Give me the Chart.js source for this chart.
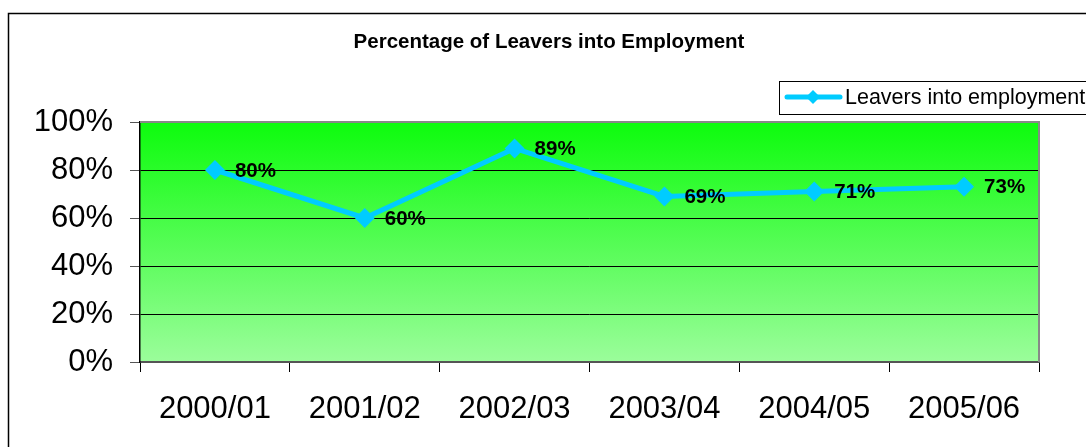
<!DOCTYPE html>
<html>
<head>
<meta charset="UTF-8">
<title>Percentage of Leavers into Employment</title>
<script src="https://cdn.jsdelivr.net/npm/chart.js@4"></script>
<style>
  body { margin: 0; background: #fff; }
  #wrap { width: 1086px; height: 447px; }
</style>
</head>
<body>
<div id="wrap"><canvas id="myChart" width="1086" height="447"></canvas></div>
<script>
// data
const years = ['2000/01', '2001/02', '2002/03', '2003/04', '2004/05', '2005/06'];
const leaversPct = [80, 60, 89, 69, 71, 73];
const pctTicks = [0, 20, 40, 60, 80, 100];
const seriesName = 'Leavers into employment';
const chartTitle = 'Percentage of Leavers into Employment';

const FONT = 'Arial, "Liberation Sans", sans-serif';
const LINE_COLOR = '#00ccff';

// frame, title, gradient plot area
const backdrop = {
    id: 'backdrop',
    beforeDraw(chart) {
        const ctx = chart.ctx;
        const a = chart.chartArea;
        ctx.save();
        ctx.strokeStyle = '#000';
        ctx.lineWidth = 1.5;
        ctx.strokeRect(8.5, 13.5, 1200, 600);

        ctx.fillStyle = '#000';
        ctx.font = 'bold 20.5px ' + FONT;
        ctx.textAlign = 'center';
        ctx.textBaseline = 'middle';
        ctx.fillText(chartTitle, 549, 42);

        const g = ctx.createLinearGradient(0, a.top, 0, a.bottom);
        g.addColorStop(0, '#0dfc0d');
        g.addColorStop(1, '#9bfd9b');
        ctx.fillStyle = g;
        ctx.fillRect(a.left, a.top, a.right - a.left, a.bottom - a.top);
        ctx.restore();
    },
    afterDraw(chart) {
        const ctx = chart.ctx;
        const a = chart.chartArea;
        ctx.save();
        ctx.strokeStyle = '#888';
        ctx.lineWidth = 2;
        ctx.beginPath();
        ctx.moveTo(a.left, a.top);
        ctx.lineTo(a.right, a.top);
        ctx.lineTo(a.right, a.bottom);
        ctx.stroke();

        // legend box
        ctx.strokeStyle = '#000';
        ctx.lineWidth = 1;
        ctx.fillStyle = '#fff';
        ctx.fillRect(779.5, 81.5, 400, 33);
        ctx.strokeRect(779.5, 81.5, 400, 33);
        ctx.strokeStyle = LINE_COLOR;
        ctx.lineWidth = 5;
        ctx.lineCap = 'round';
        ctx.beginPath();
        ctx.moveTo(787, 97);
        ctx.lineTo(840, 97);
        ctx.stroke();
        ctx.fillStyle = LINE_COLOR;
        ctx.beginPath();
        ctx.moveTo(813, 90); ctx.lineTo(820, 97); ctx.lineTo(813, 104); ctx.lineTo(806, 97);
        ctx.closePath();
        ctx.fill();
        ctx.fillStyle = '#000';
        ctx.font = '21.5px ' + FONT;
        ctx.textAlign = 'left';
        ctx.textBaseline = 'middle';
        ctx.fillText(seriesName, 845, 98);
        ctx.restore();
    }
};

// value labels beside each point
const valueLabels = {
    id: 'valueLabels',
    afterDatasetsDraw(chart) {
        const ctx = chart.ctx;
        const meta = chart.getDatasetMeta(0);
        ctx.save();
        ctx.fillStyle = '#000';
        ctx.font = 'bold 20.5px ' + FONT;
        ctx.textAlign = 'left';
        ctx.textBaseline = 'middle';
        meta.data.forEach((pt, i) => {
            ctx.fillText(leaversPct[i] + '%', pt.x + 20, pt.y + 1);
        });
        ctx.restore();
    }
};

const canvas = document.getElementById('myChart');
const myChart = new Chart(canvas, {
    type: 'line',
    data: {
        labels: years,
        datasets: [{
            label: seriesName,
            data: leaversPct,
            borderColor: LINE_COLOR,
            backgroundColor: LINE_COLOR,
            borderWidth: 5,
            pointStyle: 'rectRot',
            pointRadius: 10,
            pointHoverRadius: 10,
            pointBorderWidth: 0,
            tension: 0
        }]
    },
    options: {
        responsive: false,
        animation: false,
        events: [],
        layout: { padding: { left: 0, right: 47, top: 122, bottom: 0 } },
        plugins: {
            legend: { display: false },
            title: { display: false },
            tooltip: { enabled: false }
        },
        scales: {
            x: {
                offset: true,
                grid: {
                    offset: true,
                    drawOnChartArea: false,
                    drawTicks: true,
                    tickLength: 10,
                    color: '#000'
                },
                border: { color: '#555', width: 2 },
                ticks: {
                    color: '#000',
                    font: { family: FONT, size: 31 },
                    padding: 19,
                    maxRotation: 0
                },
                afterFit(scale) { scale.height = 85; }
            },
            y: {
                min: 0,
                max: 100,
                afterBuildTicks(scale) { scale.ticks = pctTicks.map(v => ({ value: v })); },
                grid: {
                    color: '#000',
                    lineWidth: 1,
                    tickLength: 10,
                    tickColor: '#555'
                },
                border: { color: '#000', width: 1.5 },
                ticks: {
                    color: '#000',
                    font: { family: FONT, size: 31 },
                    padding: 17,
                    callback: v => v + '%'
                },
                afterFit(scale) { scale.width = 140; }
            }
        }
    },
    plugins: [backdrop, valueLabels]
});
</script>
</body>
</html>
